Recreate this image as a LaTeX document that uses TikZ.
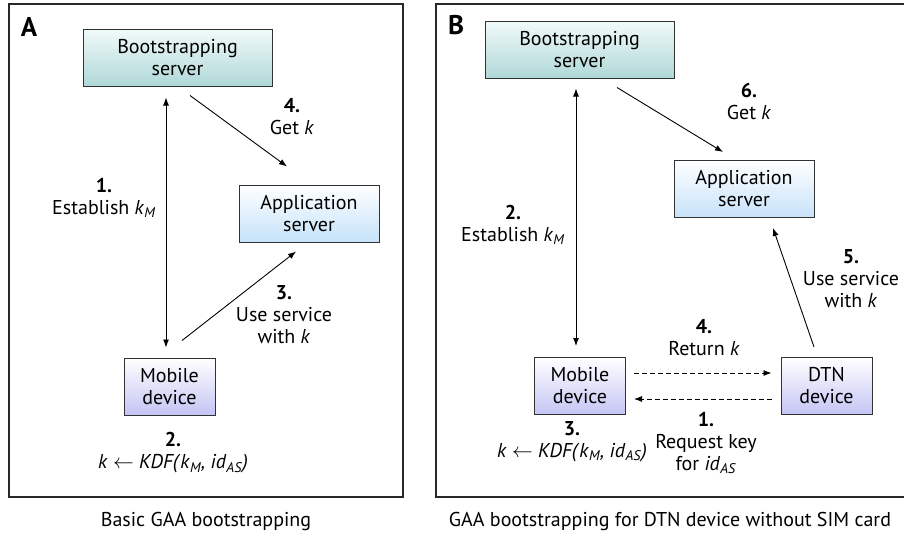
\documentclass[tikz,border=0pt]{standalone}
\usepackage{fontspec}
\setmainfont{PT Sans}
\usetikzlibrary{arrows.meta}
\definecolor{bootT}{RGB}{242,250,250}
\definecolor{bootB}{RGB}{176,216,216}
\definecolor{appT}{RGB}{255,255,255}
\definecolor{appB}{RGB}{198,226,250}
\definecolor{mobT}{RGB}{255,255,255}
\definecolor{mobB}{RGB}{196,196,245}
\definecolor{boxline}{RGB}{50,50,50}
\definecolor{frameline}{RGB}{40,40,40}
\newcommand\ik{\textit{k}}
\newcommand\kM{\textit{k}\textsubscript{\textit{M}}}
\newcommand\idAS{\textit{id}\textsubscript{\textit{AS}}}
\newcommand\kdfline{\textit{k} $\leftarrow$ \textit{KDF(}\kM\textit{, }\idAS\textit{)}}
\tikzset{
  box/.style={draw=boxline, line width=1pt, minimum height=57, inner sep=0pt,
    align=center, font=\fontsize{20}{22}\selectfont},
  bootbox/.style={box, top color=bootT, bottom color=bootB, minimum width=189},
  appbox/.style={box, top color=appT, bottom color=appB, minimum width=140},
  mobbox/.style={box, top color=mobT, bottom color=mobB, minimum width=91},
  lbl/.style={align=center, inner sep=0pt, font=\fontsize{20}{22}\selectfont},
  panel/.style={inner sep=0pt, font=\fontsize{27}{27}\selectfont\bfseries},
  frame/.style={draw=frameline, line width=1.3pt},
  arr/.style={line width=0.9pt, -{Latex[length=8pt,width=6pt]}},
  dbl/.style={line width=0.9pt, {Latex[length=8pt,width=6pt]}-{Latex[length=8pt,width=6pt]}},
  darr/.style={arr, dash pattern=on 5pt off 3pt},
}
\begin{document}
\begin{tikzpicture}[x=1pt,y=-1pt]
\useasboundingbox (0,0) rectangle (904,536);
\clip (0,0) rectangle (904,536);
\fill[white] (0,0) rectangle (904,536);
% frames
\draw[frame] (9,4) rectangle (403,497);
\draw[frame] (436,4) rectangle (912,497);
\node[panel] (labA) at (29,27) {A};
\node[panel] (labB) at (456,25) {B};
% ---------- panel A
\node[bootbox] (bootA) at (177.5,57.5) {Bootstrapping\\server};
\node[appbox]  (appA)  at (309,213.5) {Application\\server};
\node[mobbox]  (mobA)  at (169.5,386.5) {Mobile\\device};
\coordinate (xa) at (166,0);
\draw[dbl] ([yshift=-11pt]bootA.south -| xa) -- ([yshift=10pt]mobA.north -| xa);
\draw[arr] ([shift={(12.5,9)}]bootA.south) -- ([shift={(-22,-18)}]appA.north);
\draw[arr] ([shift={(12.5,-17)}]mobA.north) -- ([shift={(-13,9)}]appA.south);
\node[lbl] (l1A) at (104,198) {\textbf{1.}\\Establish \kM};
\node[lbl] (l4A) at (292,117) {\textbf{4.}\\Get \ik};
\node[lbl] (l3A) at (284,315) {\textbf{3.}\\Use service\\with \ik};
\node[lbl] (l2A) at (173,453) {\textbf{2.}\\\kdfline};
% ---------- panel B
\node[bootbox] (bootB) at (579.5,49.5) {Bootstrapping\\server};
\node[appbox]  (appB)  at (744,189) {Application\\server};
\node[mobbox]  (mobB)  at (580,386) {Mobile\\device};
\node[mobbox]  (dtnB)  at (826.5,386) {DTN\\device};
\coordinate (xb) at (576,0);
\draw[dbl] ([yshift=-10pt]bootB.south -| xb) -- ([yshift=11pt]mobB.north -| xb);
\draw[arr] ([shift={(37.5,9)}]bootB.south) -- ([shift={(-21,-8)}]appB.north);
\draw[arr] ([shift={(-12.5,-10)}]dtnB.north) -- ([shift={(29,10)}]appB.south);
\draw[darr] ([shift={(8,-13)}]mobB.east) -- ([shift={(-9,-13)}]dtnB.west);
\draw[darr] ([shift={(-9,13)}]dtnB.west) -- ([shift={(8,13)}]mobB.east);
\node[lbl] (l2B) at (513,225) {\textbf{2.}\\Establish \kM};
\node[lbl] (l6B) at (749,101) {\textbf{6.}\\Get \ik};
\node[lbl] (l5B) at (851,279) {\textbf{5.}\\Use service\\with \ik};
\node[lbl] (l4B) at (704,338) {\textbf{4.}\\Return \ik};
\node[lbl] (l1B) at (706,443) {\textbf{1.}\\Request key\\for \idAS};
\node[lbl] (l3B) at (572,442) {\textbf{3.}\\\kdfline};
% captions
\node[lbl] (capA) at (206,521) {Basic GAA bootstrapping};
\node[lbl] (capB) at (670,521) {GAA bootstrapping for DTN device without SIM card};
\end{tikzpicture}
\end{document}
